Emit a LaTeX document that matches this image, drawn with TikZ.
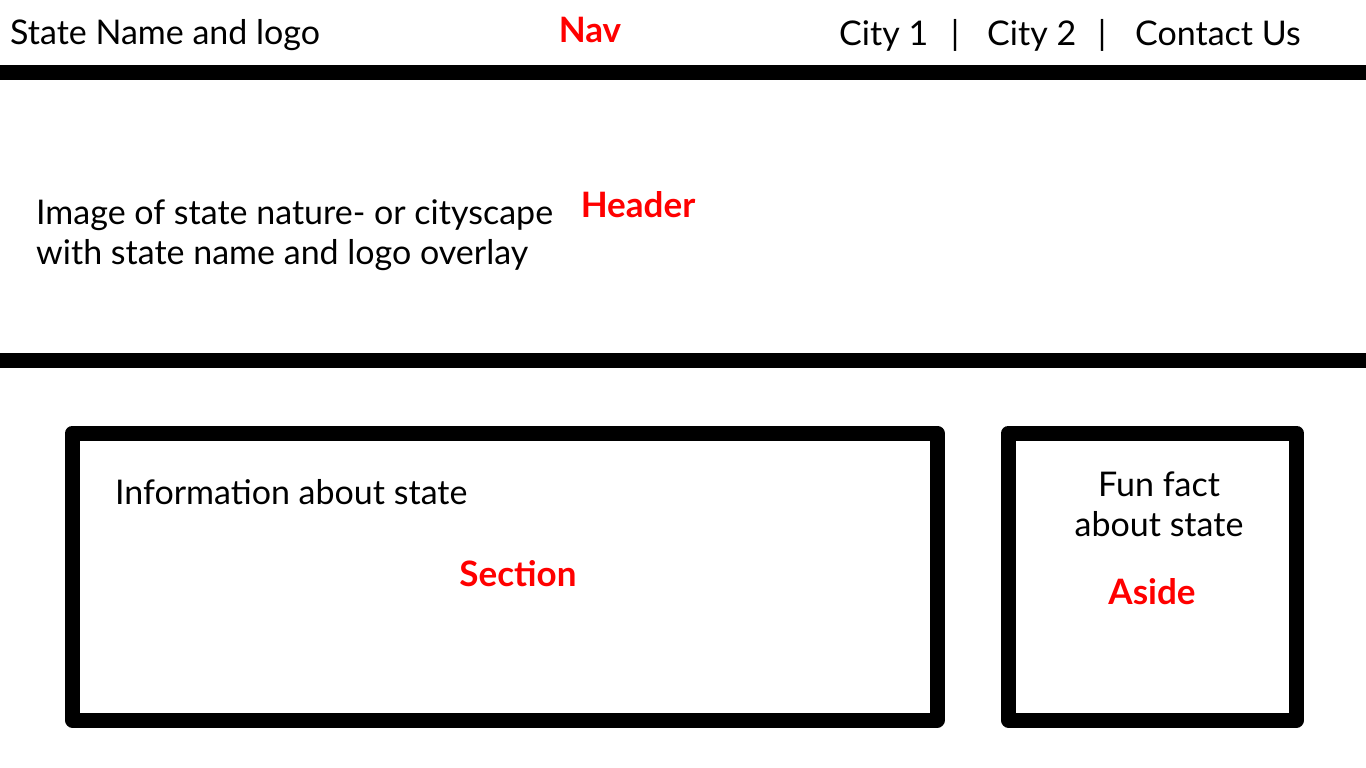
\documentclass[tikz,border=0pt]{standalone}
\usepackage{fontspec}
\setmainfont{Lato}
\definecolor{labred}{RGB}{255,0,0}
\tikzset{
  bar/.style={line width=15pt},
  panel/.style={line width=15pt, line join=round},
  txt/.style={font=\fontsize{34}{40}\selectfont, inner sep=0pt},
  tag/.style={font=\fontsize{35}{40}\selectfont\bfseries, text=labred, inner sep=0pt},
}
\begin{document}
\begin{tikzpicture}[x=1pt,y=-1pt]
\useasboundingbox (0,0) rectangle (1366,768);
\coordinate (b1l) at (0,72.5); \coordinate (b1r) at (1366,72.5);
\coordinate (b2l) at (0,360.5); \coordinate (b2r) at (1366,360.5);
\draw[bar] (b1l) -- (b1r);
\draw[bar] (b2l) -- (b2r);
\draw[panel] (72.5,433) rectangle (937,720);
\draw[panel] (1008.5,433) rectangle (1296.5,720);
\node[txt, anchor=base west] (state) at (10,45) {State Name and logo};
\node[tag, anchor=base] (nav) at (590,43) {Nav};
\node[txt, anchor=base west] (city1) at (839,46) {City 1};
\node[txt, anchor=base] (sep1) at (955,46) {|};
\node[txt, anchor=base west] (city2) at (987,46) {City 2};
\node[txt, anchor=base] (sep2) at (1102,46) {|};
\node[txt, anchor=base west] (contact) at (1135,46) {Contact Us};
\node[txt, anchor=base west] (img1) at (36,224) {Image of state nature- or cityscape};
\node[txt, anchor=base west] (img2) at (36,264) {with state name and logo overlay};
\node[tag, anchor=base] (header) at (638,217) {Header};
\node[txt, anchor=base west] (info) at (115,504) {Information about state};
\node[tag, anchor=base] (section) at (518,586) {Section};
\node[txt, anchor=base] (fun1) at (1159,496) {Fun fact};
\node[txt, anchor=base] (fun2) at (1159,536) {about state};
\node[tag, anchor=base] (aside) at (1152,604) {Aside};
\end{tikzpicture}
\end{document}
